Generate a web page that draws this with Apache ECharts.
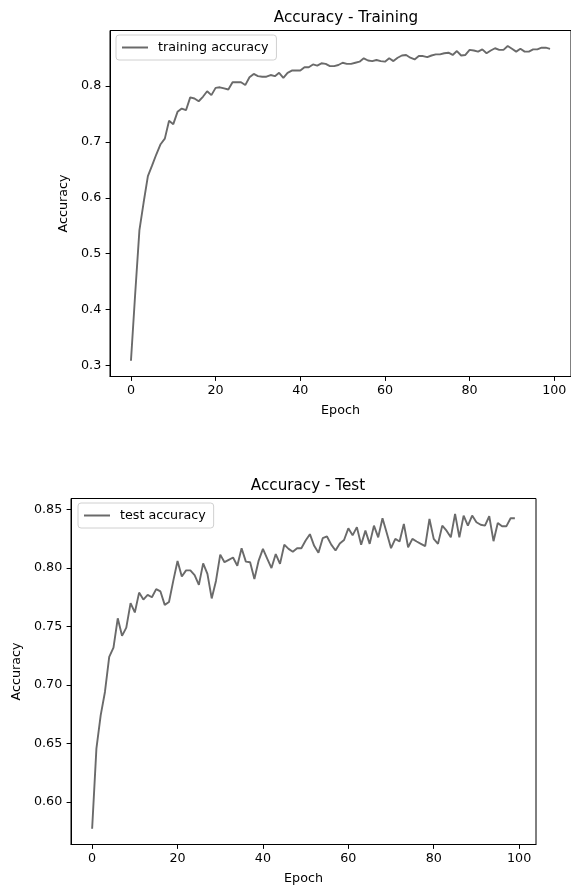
<!DOCTYPE html>
<html>
<head>
<meta charset="utf-8">
<script src="https://cdn.jsdelivr.net/npm/echarts@6/dist/echarts.min.js"></script>
<style>
html,body{margin:0;padding:0;background:#fff;}
#chart{width:571px;height:889px;}
</style>
</head>
<body>
<div id="chart"></div>
<script>
// ---- data ----
const trainTitle = "Accuracy - Training";
const testTitle = "Accuracy - Test";
const trainLegend = "training accuracy";
const testLegend = "test accuracy";
const xAxisName = "Epoch";
const yAxisName = "Accuracy";

const trainAccuracy = [
  0.308, 0.428, 0.542, 0.592, 0.639, 0.658, 0.678, 0.696, 0.706, 0.738,
  0.732, 0.754, 0.760, 0.757, 0.780, 0.778, 0.773, 0.781, 0.791, 0.784,
  0.797, 0.798, 0.796, 0.794, 0.807, 0.807, 0.807, 0.802, 0.816, 0.822,
  0.818, 0.817, 0.817, 0.820, 0.818, 0.824, 0.815, 0.824, 0.828, 0.828,
  0.828, 0.834, 0.834, 0.839, 0.837, 0.841, 0.840, 0.836, 0.836, 0.838,
  0.842, 0.840, 0.840, 0.842, 0.844, 0.850, 0.846, 0.845, 0.847, 0.845,
  0.844, 0.850, 0.845, 0.851, 0.855, 0.856, 0.851, 0.848, 0.854, 0.854,
  0.852, 0.855, 0.857, 0.857, 0.859, 0.860, 0.856, 0.863, 0.855, 0.856,
  0.865, 0.864, 0.862, 0.866, 0.859, 0.864, 0.868, 0.865, 0.865, 0.872,
  0.867, 0.862, 0.867, 0.862, 0.862, 0.866, 0.866, 0.869, 0.869, 0.867
];

const testAccuracy = [
  0.577, 0.6455, 0.674, 0.694, 0.724, 0.732, 0.757, 0.742, 0.749, 0.770,
  0.762, 0.779, 0.773, 0.777, 0.775, 0.782, 0.780, 0.7685, 0.771, 0.789,
  0.806, 0.7927, 0.798, 0.798, 0.794, 0.7856, 0.804, 0.795, 0.774, 0.789,
  0.8115, 0.805, 0.807, 0.809, 0.802, 0.817, 0.8055, 0.805, 0.7907, 0.8064,
  0.8164, 0.808, 0.800, 0.812, 0.8036, 0.820, 0.8164, 0.814, 0.817, 0.817,
  0.8235, 0.829, 0.819, 0.813, 0.8255, 0.827, 0.820, 0.815, 0.821, 0.824,
  0.834, 0.828, 0.835, 0.820, 0.832, 0.8207, 0.8363, 0.8263, 0.8426, 0.830,
  0.817, 0.825, 0.8227, 0.8378, 0.8178, 0.825, 0.8227, 0.8207, 0.8187, 0.842,
  0.825, 0.8207, 0.8363, 0.832, 0.8263, 0.8463, 0.8263, 0.8449, 0.8363, 0.8449,
  0.8392, 0.837, 0.8363, 0.8443, 0.823, 0.8386, 0.8357, 0.8357, 0.8426, 0.8426
];

const xTicks = [0, 20, 40, 60, 80, 100];
const trainYTicks = [0.3, 0.4, 0.5, 0.6, 0.7, 0.8];
const testYTicks = [0.60, 0.65, 0.70, 0.75, 0.80, 0.85];

// ---- build ----
const epochs = trainAccuracy.map((_, i) => i);
const trainData = epochs.map((e, i) => [e, trainAccuracy[i]]);
const testData = epochs.map((e, i) => [e, testAccuracy[i]]);

const FONT = "DejaVu Sans";
const LINE_COLOR = "#6a6a6a";
const labelStyle = { color: "#000", fontFamily: FONT, fontSize: 12.7 };

function xAxisCfg(gridIndex) {
  return {
    type: "value", gridIndex,
    min: -4.95, max: 103.95,
    name: xAxisName, nameLocation: "middle", nameGap: 28,
    nameTextStyle: labelStyle,
    axisLine: { show: true, onZero: false, lineStyle: { color: "#000", width: 1 } },
    axisTick: { show: true, inside: false, length: 4.4, lineStyle: { color: "#000" }, customValues: xTicks },
    axisLabel: Object.assign({ margin: 8, customValues: xTicks, formatter: v => String(v) }, labelStyle),
    splitLine: { show: false }
  };
}
function yAxisCfg(gridIndex, min, max, ticks, digits, gap) {
  return {
    type: "value", gridIndex,
    min, max,
    name: yAxisName, nameLocation: "middle", nameGap: gap, nameRotate: 90,
    nameTextStyle: labelStyle,
    axisLine: { show: true, onZero: false, lineStyle: { color: "#000", width: 1 } },
    axisTick: { show: true, inside: false, length: 4.4, lineStyle: { color: "#000" }, customValues: ticks },
    axisLabel: Object.assign({ margin: 8.8, customValues: ticks, formatter: v => v.toFixed(digits) }, labelStyle),
    splitLine: { show: false }
  };
}

const legendCommon = {
  orient: "vertical",
  icon: "rect",
  itemWidth: 26, itemHeight: 2,
  padding: [6, 8, 6, 6],
  borderColor: "#d0d0d0", borderWidth: 1, borderRadius: 3,
  backgroundColor: "rgba(255,255,255,0.8)",
  textStyle: { color: "#000", fontFamily: FONT, fontSize: 12.7, padding: [0, 0, 0, 5] }
};

const option = {
  animation: false,
  backgroundColor: "#fff",
  title: [
    { text: trainTitle, left: 341, top: 6, textAlign: "center",
      textStyle: { fontFamily: FONT, fontSize: 15.2, fontWeight: "normal", color: "#000" } },
    { text: testTitle, left: 303, top: 474, textAlign: "center",
      textStyle: { fontFamily: FONT, fontSize: 15.2, fontWeight: "normal", color: "#000" } }
  ],
  legend: [
    Object.assign({ data: [trainLegend], left: 116, top: 35 }, legendCommon),
    Object.assign({ data: [testLegend], left: 78, top: 503 }, legendCommon)
  ],
  grid: [
    { left: 110, top: 30.5, width: 464, height: 346, show: true, borderColor: "#000", borderWidth: 1, containLabel: false },
    { left: 71, top: 498.5, width: 465, height: 346, show: true, borderColor: "#000", borderWidth: 1, containLabel: false }
  ],
  xAxis: [xAxisCfg(0), xAxisCfg(1)],
  yAxis: [
    yAxisCfg(0, 0.2798, 0.8998, trainYTicks, 1, 34),
    yAxisCfg(1, 0.5635, 0.8595, testYTicks, 2, 40)
  ],
  series: [
    { name: trainLegend, type: "line", xAxisIndex: 0, yAxisIndex: 0, data: trainData,
      symbol: "none", lineStyle: { color: LINE_COLOR, width: 1.9 }, itemStyle: { color: LINE_COLOR } },
    { name: testLegend, type: "line", xAxisIndex: 1, yAxisIndex: 1, data: testData,
      symbol: "none", lineStyle: { color: LINE_COLOR, width: 1.9 }, itemStyle: { color: LINE_COLOR } }
  ]
};

const chart = echarts.init(document.getElementById("chart"), null, { renderer: "canvas" });
chart.setOption(option);
</script>
</body>
</html>
